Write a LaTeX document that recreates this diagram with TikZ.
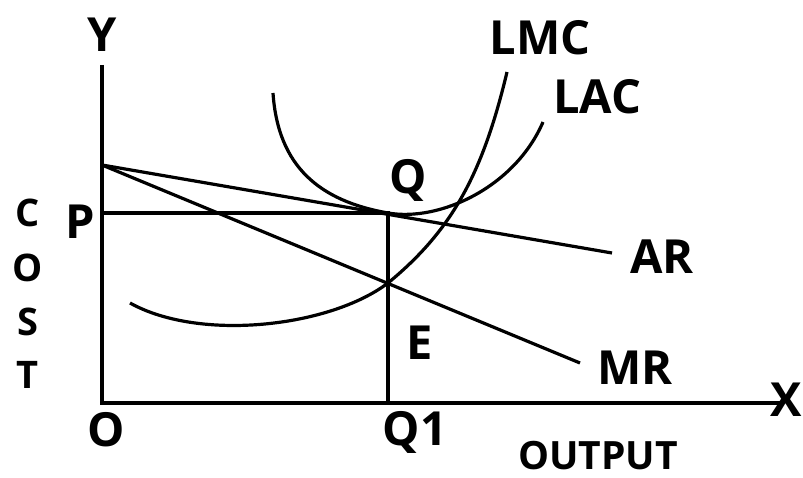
\documentclass[tikz,border=0pt]{standalone}
\usepackage{fontspec}
\setmainfont{Open Sans}
\usetikzlibrary{positioning}

\begin{document}
\begin{tikzpicture}[x=1pt, y=1pt,
    lbl/.style = {font=\bfseries\fontsize{47}{50}\selectfont, inner sep=0pt},
    side/.style = {font=\bfseries\fontsize{38}{42}\selectfont, inner sep=0pt},
    ln/.style = {line width=3.2pt}]
    \useasboundingbox (0,0) rectangle (803,477);
    % axes and points
    \coordinate (O) at (102,74);
    \coordinate (Ytop) at (102,412);
    \coordinate (Xend) at (782,74);
    \coordinate (P) at (102,264);
    \coordinate (Q) at (388,264);
    \coordinate (E) at (388,194);
    \coordinate (Q1) at (388,74);
    \coordinate (A) at (102,312);
    \coordinate (ARend) at (612,224);
    \coordinate (MRend) at (580,114);
    \coordinate (LACstart) at (273,384);
    \coordinate (LACend) at (543,355);
    \coordinate (LMCstart) at (130,174);
    \coordinate (LMCend) at (507,405);

    \draw[ln] (Ytop) -- (O) -- (Xend);
    \draw[ln] (P) -- (Q) -- (Q1);
    \draw[ln] (A) -- (ARend);
    \draw[ln] (A) -- (MRend);
    \draw[ln] (LACstart) .. controls (278,310) and (320,276) .. (Q)
        .. controls (440,255) and (515,290) .. (LACend);
    \draw[ln] (LMCstart) .. controls (200,135) and (330,150) .. (E)
        .. controls (450,245) and (482,300) .. (LMCend);

    % labels
    \node[lbl] (ylbl) at (102,442) {Y};
    \node[lbl, anchor=east] (xlbl) at (802,77) {X};
    \node[lbl] (olbl) at (106,47) {O};
    \node[lbl] (q1lbl) at (415,45) {Q1};
    \node[lbl, font=\bfseries\fontsize{39}{44}\selectfont, anchor=south] (outlbl) at (598,7) {OUTPUT};
    \node[lbl] (plbl) at (80,255) {P};
    \node[lbl] (qlbl) at (408,297) {Q};
    \node[lbl] (elbl) at (420,134) {E};
    \node[lbl] (arlbl) at (662,220) {AR};
    \node[lbl] (mrlbl) at (635,109) {MR};
    \node[lbl] (lmclbl) at (540,439) {LMC};
    \node[lbl] (laclbl) at (597,380) {LAC};
    \node[side] (c) at (28,264) {C};
    \node[side] (o) at (28,209) {O};
    \node[side] (s) at (28,155) {S};
    \node[side] (t) at (28,102) {T};
\end{tikzpicture}
\end{document}
